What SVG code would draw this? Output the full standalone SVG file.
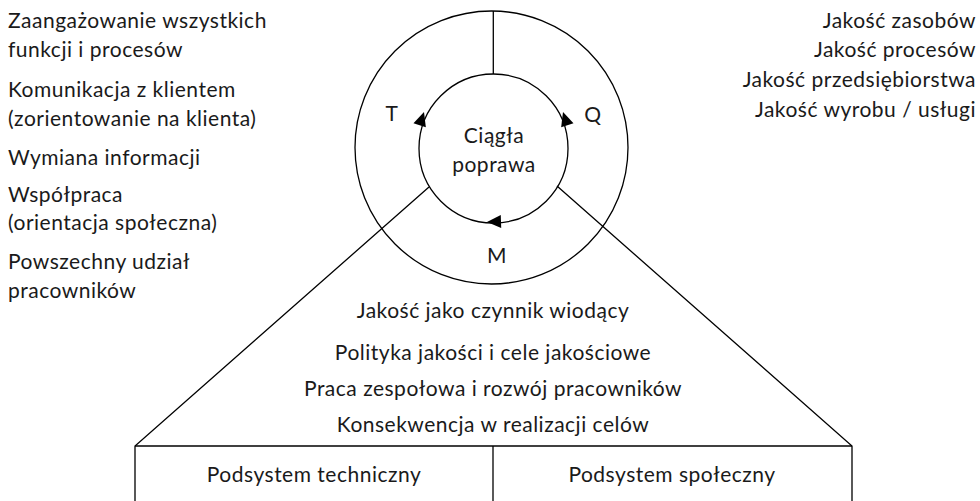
<svg xmlns="http://www.w3.org/2000/svg" xmlns:xlink="http://www.w3.org/1999/xlink" width="980" height="501" viewBox="0 0 980 501">
  <style>
    .ln { fill: none; stroke: #000; stroke-width: 1.3; }
    .tx { font-family: Lato, "Open Sans", "Liberation Sans", sans-serif; font-size: 21px; letter-spacing: 0.5px; fill: #1a1a1a; }
    .c { text-anchor: middle; }
    .r { text-anchor: end; }
  </style>
  <defs>
    <path id="tip" d="M0,0 L-14,-6.5 L-14,6.5 Z" fill="#000"/>
  </defs>
  <rect width="980" height="501" fill="#fff"/>

  <!-- connectors and outlines -->
  <g id="connectors">
    <circle class="ln" cx="491.5" cy="147.5" r="136.5"/>
    <circle class="ln" cx="493.5" cy="148.5" r="74.5"/>
    <line class="ln" x1="493.3" y1="11" x2="493.3" y2="74"/>
    <polyline class="ln" points="429,187 135,446 135,501"/>
    <polyline class="ln" points="557,186 852,446 852,501"/>
    <line class="ln" x1="135" y1="446" x2="852" y2="446"/>
    <line class="ln" x1="493" y1="446" x2="493" y2="501"/>
    <use xlink:href="#tip" transform="translate(424,112) rotate(-72)"/>
    <use xlink:href="#tip" transform="translate(563,112) rotate(-108)"/>
    <use xlink:href="#tip" transform="translate(487,222) rotate(178)"/>
  </g>

  <g id="center">
    <text class="tx c" x="494" y="143">Ciągła</text>
    <text class="tx c" x="494" y="172">poprawa</text>
  </g>
  <g id="sector-t"><text class="tx c" x="392" y="121">T</text></g>
  <g id="sector-q"><text class="tx c" x="593" y="122">Q</text></g>
  <g id="sector-m"><text class="tx c" x="497" y="263">M</text></g>

  <g id="left-list">
    <text class="tx" x="8" y="28">Zaangażowanie wszystkich</text>
    <text class="tx" x="8" y="57">funkcji i procesów</text>
    <text class="tx" x="8" y="97">Komunikacja z klientem</text>
    <text class="tx" x="8" y="126">(zorientowanie na klienta)</text>
    <text class="tx" x="8" y="165">Wymiana informacji</text>
    <text class="tx" x="8" y="202">Współpraca</text>
    <text class="tx" x="8" y="230">(orientacja społeczna)</text>
    <text class="tx" x="8" y="269">Powszechny udział</text>
    <text class="tx" x="8" y="298">pracowników</text>
  </g>

  <g id="right-list">
    <text class="tx r" x="976" y="28">Jakość zasobów</text>
    <text class="tx r" x="976" y="57">Jakość procesów</text>
    <text class="tx r" x="976" y="87">Jakość przedsiębiorstwa</text>
    <text class="tx r" x="976" y="117">Jakość wyrobu / usługi</text>
  </g>

  <g id="principles">
    <text class="tx c" x="493" y="318">Jakość jako czynnik wiodący</text>
    <text class="tx c" x="493" y="360">Polityka jakości i cele jakościowe</text>
    <text class="tx c" x="493" y="396">Praca zespołowa i rozwój pracowników</text>
    <text class="tx c" x="493" y="432">Konsekwencja w realizacji celów</text>
  </g>

  <g id="subsystem-technical"><text class="tx c" x="314" y="482">Podsystem techniczny</text></g>
  <g id="subsystem-social"><text class="tx c" x="672" y="482">Podsystem społeczny</text></g>
</svg>
